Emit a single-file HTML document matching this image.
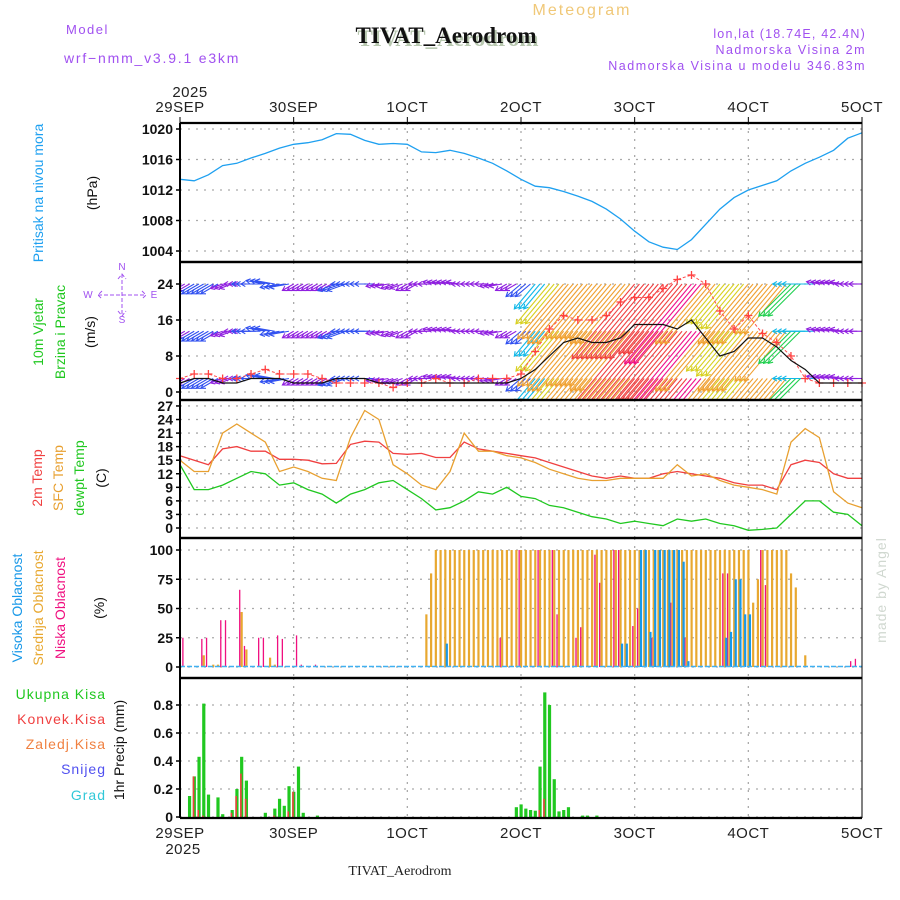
<!DOCTYPE html>
<html><head><meta charset="utf-8"><title>Meteogram TIVAT_Aerodrom</title>
<style>
html,body{margin:0;padding:0;background:#fff;}
svg{display:block;font-family:"Liberation Sans",sans-serif;}
.tk{font-size:14px;font-weight:bold;fill:#111;text-anchor:end;}
.dl{font-size:15px;fill:#222;text-anchor:middle;letter-spacing:0.5px;}
.lab{font-size:14px;text-anchor:middle;}
</style></head>
<body>
<svg id="chart" width="900" height="900" viewBox="0 0 900 900">
<defs><clipPath id="cw"><rect x="180" y="263" width="682" height="136"/></clipPath></defs>
<text x="448" y="46" font-family="Liberation Serif,serif" font-size="23" font-weight="bold" fill="#b8c8b0" text-anchor="middle">TIVAT_Aerodrom</text>
<text x="446" y="43" font-family="Liberation Serif,serif" font-size="23" font-weight="bold" fill="#111" text-anchor="middle">TIVAT_Aerodrom</text>
<text x="582" y="15" font-size="16" fill="#f0c878" text-anchor="middle" letter-spacing="2">Meteogram</text>
<text x="66" y="34" font-size="13" fill="#a050f0" letter-spacing="1.5">Model</text>
<text x="64" y="63" font-size="14" fill="#a050f0" letter-spacing="1.8">wrf−nmm_v3.9.1 e3km</text>
<text x="866" y="38" font-size="12.5" fill="#a050f0" text-anchor="end" letter-spacing="1.2">lon,lat (18.74E, 42.4N)</text>
<text x="866" y="54" font-size="12.5" fill="#a050f0" text-anchor="end" letter-spacing="1.5">Nadmorska Visina 2m</text>
<text x="866" y="70" font-size="12.5" fill="#a050f0" text-anchor="end" letter-spacing="1.5">Nadmorska Visina u modelu 346.83m</text>
<g id="layer"></g>
<text x="400" y="875" font-family="Liberation Serif,serif" font-size="14" fill="#222" text-anchor="middle">TIVAT_Aerodrom</text>
<text transform="translate(886,590) rotate(-90)" font-size="14" fill="#d0d8d0" text-anchor="middle" letter-spacing="1">made by Angel</text>
</svg>
<script>
// ---- data (3-hourly, h = 0..144) ----
const days = ["29SEP","30SEP","1OCT","2OCT","3OCT","4OCT","5OCT"];
const pressure = [1013.4,1013.2,1014,1015.2,1015.5,1016.2,1016.8,1017.5,1018,1018.2,1018.6,1019.4,1019.3,1018.5,1018,1018.1,1018,1017,1016.9,1017.2,1016.8,1016.2,1015.5,1014.5,1013.4,1012.5,1012.3,1011.8,1011.2,1010.5,1009.5,1008.2,1006.6,1005.2,1004.5,1004.2,1005.5,1007.5,1009.5,1011,1012,1012.6,1013.2,1014.5,1015.5,1016.3,1017.2,1018.8,1019.5];
const pressTicks = [1004,1008,1012,1016,1020];
const windSpeed = [2,3,3,2,2,3,3,3,2,2,2,3,3,3,2,2,2,2,2,2,2,2,2,2,3,5,8,11,12,11,11,12,15,15,15,14,16,12,8,9,12,12,10,7,5,2,2,2,2];
const windGust = [3,4,4,3,3,4,5,4,4,4,3,2,2,2,2,1,2,2,3,2,2,3,3,3,4,9,14,17,16,16,17,20,21,21,23,25,26,24,18,14,17,13,11,8,3,2,2,2,2];
const windDir = [60,60,60,70,90,90,100,80,60,60,60,70,90,90,80,70,60,90,100,100,90,90,80,60,50,40,40,40,40,40,40,40,40,40,40,40,40,40,40,40,40,40,40,45,90,100,100,90,90];
const windTicks = [0,8,16,24];
const temp2m = [16,15,14,17.5,18,17,17,15.2,15.2,15,14.2,14.3,18.5,19.2,19,16.5,16.3,16.5,15.6,15.6,19,17.5,17,16.5,16,15.5,14.5,13.5,12.5,11.5,11,11.5,11,11,12,12.5,12,11.5,11,10,9.5,9.5,8.5,14,15,14.5,12,11,11];
const tempSfc = [15,12.5,12.5,21,23,21,19,12.5,13.5,12.5,11,10.5,20,26,24,14,12,9.5,8.5,12.5,21,17,17,16,15.5,14.5,13,12,11,10.5,10.5,11,11,11,11,14,11.5,12,10.5,9.5,9,8.5,7.5,19,22,20,8,5.5,4.5];
const tempDew = [14,8.5,8.5,9.5,11,12.5,12,9.5,10,8.5,7.5,5.5,7.5,8.5,10,10.5,8.5,6.5,4,4.5,6,8,7.5,9,7,6.5,5,4.5,3.5,2.5,2,1,1.5,1,0.5,2,1.5,2,1,0.5,-0.5,-0.3,0,3,6,6,3.5,3,0.5];
const tempTicks = [0,3,6,9,12,15,18,21,24,27];
// ---- hourly cloud cover ----
const lowHours = [1,5,6,9,10,13,14,17,18,21,22,25,26,29,68,72,76,79,80,84,85,88,89,92,93,96,97,100,104,107,115,116,123,124,142,143];
const lowVals  = [25,24,25,40,40,66,18,25,25,27,24,27,2,2,25,100,100,100,45,25,34,96,72,100,100,35,50,25,55,25,80,80,100,70,5,7];
const midHours = [2,5,7,8,13,14,19,20,52,53];
const midVals  = [1,10,2,2,47,15,8,2,45,80];
const midFullStart = 54, midFullEnd = 128;
const midTailHours = [121,122,129,130,132];
const midTailVals  = [55,75,80,68,10];
const highHours = [56,93,94,97,98,99,100,101,102,103,104,105,106,107,115,116,117,118,119,120];
const highVals  = [20,20,20,100,100,30,100,100,100,100,100,100,90,5,25,30,75,75,45,45];
const cloudTicks = [0,25,50,75,100];
// ---- hourly precipitation ----
const precHours = [2,3,4,5,6,8,9,11,12,13,14,18,20,21,22,23,24,25,26,29,71,72,73,74,75,76,77,78,79,80,81,82,85,86,88];
const precTotal = [0.15,0.29,0.43,0.81,0.16,0.14,0.02,0.05,0.2,0.43,0.26,0.03,0.06,0.13,0.08,0.22,0.18,0.36,0.03,0.01,0.07,0.09,0.06,0.05,0.045,0.36,0.89,0.8,0.27,0.04,0.05,0.07,0.01,0.01,0.01];
const precConv  = [0,0.29,0.05,0.01,0,0,0,0.03,0.15,0.31,0.13,0,0.01,0,0,0.04,0.18,0,0,0,0,0,0,0,0,0.05,0.13,0,0,0,0,0,0,0,0];
const precTicks = [0,0.2,0.4,0.6,0.8];

const NS="http://www.w3.org/2000/svg";
const layer=document.getElementById('layer');
function el(tag,attrs,parent){const e=document.createElementNS(NS,tag);for(const k in attrs)e.setAttribute(k,attrs[k]);(parent||layer).appendChild(e);return e;}
const X0=180,X1=862;
function xh(h){return X0+h*(X1-X0)/144;}
function yP(p){return 251-(p-1004)*7.625;}
function yW(v){return 392-v*4.5;}
function yT(t){return 528-t*4.52;}
function yC(c){return 667-c*1.17;}
function yR(r){return 817-r*140;}
const panels=[[123,262],[262,400],[400,538],[538,678],[678,818]];

function hgrid(y,name){const g=el('line',{x1:X0,x2:X1,y1:y,y2:y,stroke:'#aaa','stroke-width':1.3,'stroke-dasharray':'2,6'});

}
function ytick(y,label,name){const t=el('text',{x:173,y:y+5,class:'tk'});t.textContent=label;


const l=el('line',{x1:X0-4,x2:X0,y1:y,y2:y,stroke:'#000','stroke-width':1.5});

}
panels.forEach(([a,b])=>{for(let d=1;d<6;d++){const v=el('line',{x1:xh(d*24),x2:xh(d*24),y1:a,y2:b,stroke:'#aaa','stroke-width':1.3,'stroke-dasharray':'2,6'});

}});
pressTicks.forEach(p=>{hgrid(yP(p),'pressure-gridline');ytick(yP(p),String(p),'pressure-tick-label');});
windTicks.forEach(v=>{hgrid(yW(v),'wind-gridline');ytick(yW(v),String(v),'wind-tick-label');});
tempTicks.forEach(v=>{hgrid(yT(v),'temp-gridline');ytick(yT(v),String(v),'temp-tick-label');});
cloudTicks.forEach(v=>{hgrid(yC(v),'cloud-gridline');ytick(yC(v),String(v),'cloud-tick-label');});
precTicks.forEach(v=>{hgrid(yR(v),'precip-gridline');ytick(yR(v),v===0?'0':v.toFixed(1),'precip-tick-label');});

function line(arr,yf,color,name,w){const pts=arr.map((v,i)=>xh(i*3).toFixed(1)+','+yf(v).toFixed(1)).join(' ');
const p=el('polyline',{points:pts,fill:'none',stroke:color,'stroke-width':w||1.3});

return p;}
line(pressure,yP,'#1ea0f0','pressure-line');

// wind arrows: tail at row baseline, head in blow direction
function windColor(s){if(s<2.5)return '#9020e0';if(s<4)return '#3050f0';if(s<6)return '#10b8e8';if(s<8)return '#20d050';if(s<10)return '#d8d020';if(s<13)return '#f0a030';if(s<16)return '#f04040';return '#f0108a';}
const wg=el('g',{'clip-path':'url(#cw)'});


const rows=[24,13.5,3];
windSpeed.forEach((s,i)=>{
 const d=windDir[i]*Math.PI/180,L=Math.max(s,1.5)*6.5,c=windColor(s);
 for(let k=0;k<3;k++){const h=i*3+k;if(h>144)break;
  rows.forEach(r=>{const tx=xh(h),ty=yW(r);const bx=tx-Math.sin(d)*L,by=ty+Math.cos(d)*L;
   const a=el('line',{x1:tx,y1:ty,x2:bx,y2:by,stroke:c,'stroke-width':1.1},wg);
   
   
   const ang=Math.atan2(by-ty,bx-tx);
   const hd=el('polyline',{points:`${bx+5*Math.cos(ang+2.6)},${by+5*Math.sin(ang+2.6)} ${bx},${by} ${bx+5*Math.cos(ang-2.6)},${by+5*Math.sin(ang-2.6)}`,fill:'none',stroke:c,'stroke-width':1.1},wg);
   
   });}
});
const gl=line(windGust,yW,'#ff5050','wind-gust-line',1);gl.setAttribute('stroke-dasharray','3,2');
windGust.forEach((v,i)=>{const x=xh(i*3),y=yW(v);const c=el('path',{d:`M${x-4},${y}H${x+4}M${x},${y-4}V${y+4}`,stroke:'#ff4040','stroke-width':1.3});

});
line(windSpeed,yW,'#111','wind-speed-line',1.2);

line(temp2m,yT,'#f04040','temp-2m-line');
line(tempSfc,yT,'#e8a030','temp-sfc-line');
line(tempDew,yT,'#20c820','dewpoint-line');

function cbar(h,v,color,off,w,name){const y=yC(v);const r=el('rect',{x:xh(h)+off,y:y,width:w,height:yC(0)-y,fill:color});

}
for(let h=midFullStart;h<=midFullEnd;h++){const j=midTailHours.indexOf(h);cbar(h,j>=0?midTailVals[j]:100,'#e8a830',-1,2.2,'mid-cloud-bar');}
midTailHours.forEach((h,i)=>{if(h>midFullEnd)cbar(h,midTailVals[i],'#e8a830',-1,2.2,'mid-cloud-bar');});
midHours.forEach((h,i)=>cbar(h,midVals[i],'#e8a830',-1,2.2,'mid-cloud-bar'));
lowHours.forEach((h,i)=>cbar(h,lowVals[i],'#f01080',-2.5,1.3,'low-cloud-bar'));
highHours.forEach((h,i)=>cbar(h,highVals[i],'#1898e8',0.5,2.2,'high-cloud-bar'));
const cb=el('line',{x1:X0,x2:X1,y1:yC(0)-0.5,y2:yC(0)-0.5,stroke:'#40b0f0','stroke-width':1.5,'stroke-dasharray':'5,2'});



precHours.forEach((h,i)=>{const y=yR(precTotal[i]);const r=el('rect',{x:xh(h)-1.5,y:y,width:3.2,height:yR(0)-y,fill:'#20c820'});


if(precConv[i]>0){const y2=yR(precConv[i]);const c=el('rect',{x:xh(h)-1.5,y:y2,width:1.6,height:yR(0)-y2,fill:'#f04040'});

}});

panels.forEach(([a,b])=>{[a,b].forEach(y=>{const l=el('line',{x1:X0,x2:X1,y1:y,y2:y,stroke:'#000','stroke-width':2.2});

});});
const la=el('line',{x1:X0,x2:X0,y1:123,y2:818,stroke:'#000','stroke-width':2});


const ra=el('line',{x1:X1,x2:X1,y1:123,y2:818,stroke:'#000','stroke-width':1});



days.forEach((d,i)=>{const x=xh(i*24);
 const t=el('text',{x:x,y:112,class:'dl'});t.textContent=d;
 
 
 const b=el('text',{x:x,y:838,class:'dl'});b.textContent=d;
 
 
 const m=el('line',{x1:x,x2:x,y1:117,y2:123,stroke:'#000'});
 
 });
const y1=el('text',{x:190,y:97,class:'dl'});y1.textContent='2025';


const y2=el('text',{x:183,y:854,class:'dl'});y2.textContent='2025';



function vlab(x,y,txt,color,name){const t=el('text',{transform:`translate(${x},${y}) rotate(-90)`,class:'lab',fill:color});t.textContent=txt;

}
vlab(43,193,'Pritisak na nivou mora','#1ea0f0','pressure-title');
vlab(97,193,'(hPa)','#111','pressure-unit');
vlab(43,332,'10m Vjetar','#20c820','wind-title');
vlab(65,332,'Brzina i Pravac','#20c820','wind-subtitle');
vlab(95,332,'(m/s)','#111','wind-unit');
vlab(42,478,'2m Temp','#f04040','temp-2m-title');
vlab(63,478,'SFC Temp','#e8a030','temp-sfc-title');
vlab(84,478,'dewpt Temp','#20c820','dewpoint-title');
vlab(106,478,'(C)','#111','temp-unit');
vlab(22,608,'Visoka Oblacnost','#1898e8','high-cloud-title');
vlab(43,608,'Srednja Oblacnost','#e8a830','mid-cloud-title');
vlab(65,608,'Niska Oblacnost','#f01080','low-cloud-title');
vlab(104,608,'(%)','#111','cloud-unit');
vlab(124,750,'1hr Precip (mm)','#111','precip-title');
[['Ukupna Kisa','#20c820',699],['Konvek.Kisa','#f04040',724],['Zaledj.Kisa','#f08040',749],['Snijeg','#5050f0',774],['Grad','#30c8d8',800]].forEach(([t,c,y])=>{
 const e=el('text',{x:106,y:y,'font-size':14,fill:c,'text-anchor':'end','letter-spacing':1});e.textContent=t;
 
 });
const cg=el('g',{fill:'#a050f0','font-size':10,'text-anchor':'middle'});


[['N',122,270],['W',88,298],['E',154,298],['S',122,323]].forEach(([t,x,y])=>{const e=el('text',{x:x,y:y},cg);e.textContent=t;
 
 });
const cp=el('path',{d:'M122,274V316M98,295H146M118,279L122,274L126,279M118,311L122,316L126,311M102,291L98,295L102,299M142,291L146,295L142,299',stroke:'#a050f0',fill:'none','stroke-dasharray':'4,2'},cg);


</script>
</body></html>
